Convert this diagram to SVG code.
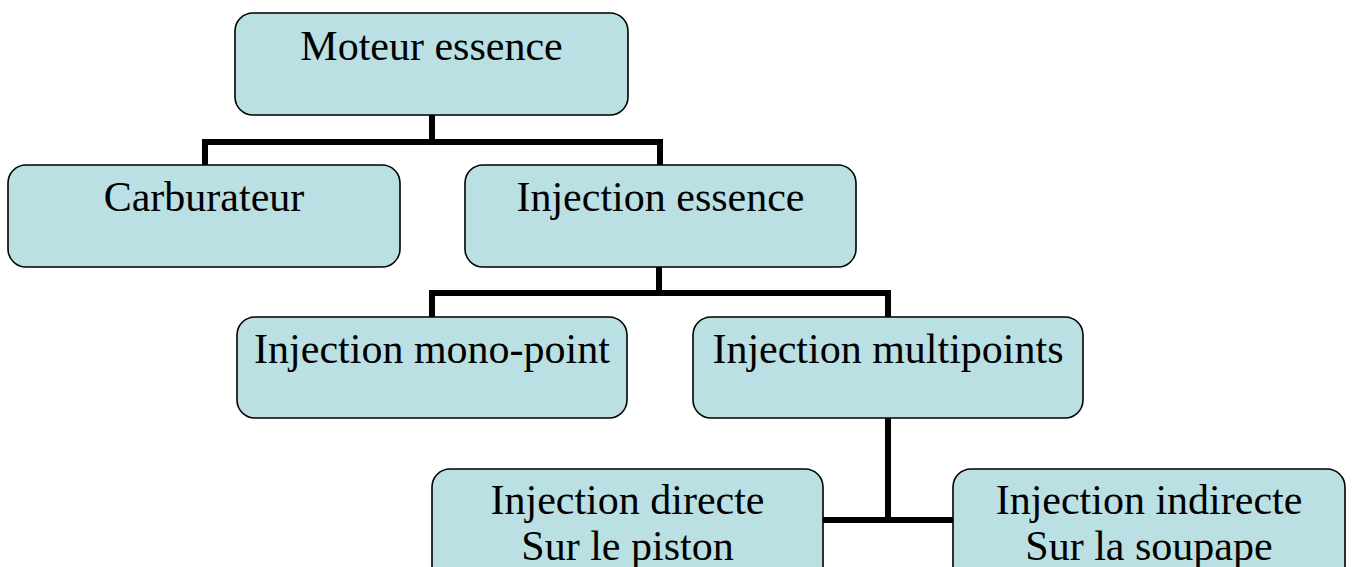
<svg xmlns="http://www.w3.org/2000/svg" width="1352" height="567" viewBox="0 0 1352 567">
<style>
.box{fill:#BAE0E3;stroke:#000;stroke-width:1.6}
.t{font-family:"Liberation Serif","Times New Roman",serif;font-size:42px;fill:#000;text-anchor:middle}
.c{fill:none;stroke:#000;stroke-width:6;stroke-linecap:butt;stroke-linejoin:miter}
</style>
<rect width="1352" height="567" fill="#fff"/>
<g id="connectors">
<path class="c" d="M432,115 V142 M205,165 V142 H660 V165"/>
<path class="c" d="M659,267 V293 M432,317 V293 H888 V317"/>
<path class="c" d="M888,418 V520 M823,520 H953"/>
</g>
<g id="n1"><rect class="box" x="235" y="13" width="393" height="102" rx="18"/><text class="t" x="431.5" y="60">Moteur essence</text></g>
<g id="n2"><rect class="box" x="8" y="165" width="392" height="102" rx="18"/><text class="t" x="204" y="211">Carburateur</text></g>
<g id="n3"><rect class="box" x="465" y="165" width="391" height="102" rx="18"/><text class="t" x="660.5" y="211">Injection essence</text></g>
<g id="n4"><rect class="box" x="237" y="317" width="390" height="101" rx="18"/><text class="t" x="432" y="363">Injection mono-point</text></g>
<g id="n5"><rect class="box" x="693" y="317" width="390" height="101" rx="18"/><text class="t" x="888" y="363">Injection multipoints</text></g>
<g id="n6"><rect class="box" x="432" y="469" width="391" height="120" rx="18"/><text class="t" x="627.5" y="514">Injection directe</text><text class="t" x="627.5" y="560">Sur le piston</text></g>
<g id="n7"><rect class="box" x="953" y="469" width="392" height="120" rx="18"/><text class="t" x="1149" y="514">Injection indirecte</text><text class="t" x="1149" y="560">Sur la soupape</text></g>
</svg>
